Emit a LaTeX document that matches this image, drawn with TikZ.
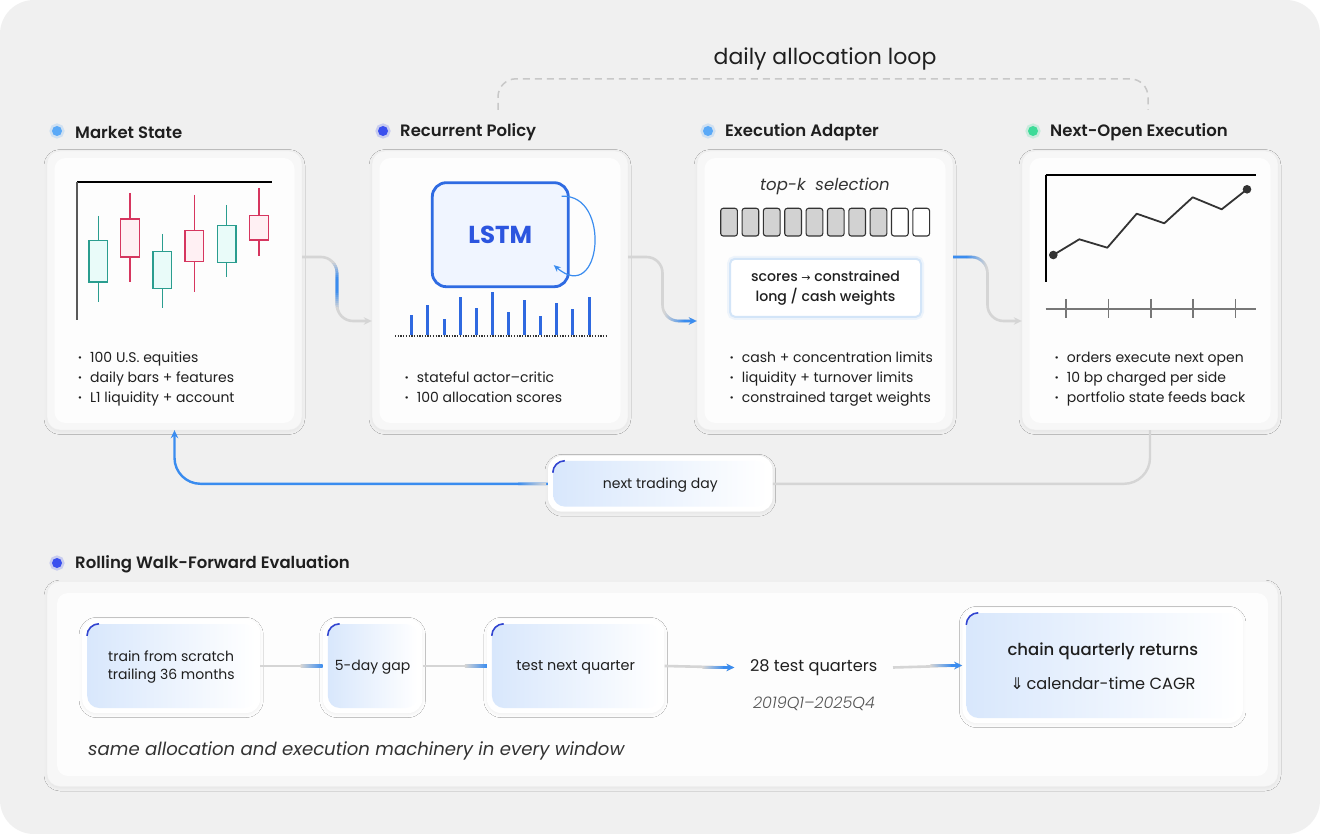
\documentclass[tikz,border=0pt]{standalone}
\usepackage{fontspec}
\setmainfont{Poppins}
\newfontfamily\pmed{Poppins Medium}
\newfontfamily\psemi{Poppins SemiBold}
\newfontfamily\pbold{Poppins Bold}
\newfontfamily\pit{Poppins Italic}
\newfontfamily\plightit{Poppins Light Italic}
\newfontfamily\djv{DejaVu Sans}
\usetikzlibrary{calc,arrows.meta,shadows.blur}

\definecolor{bgc}{HTML}{F0F0F0}
\definecolor{cardc}{HTML}{F7F7F7}
\definecolor{cardb}{HTML}{EEEEEE}
\definecolor{innerc}{HTML}{FDFDFD}
\definecolor{txt}{HTML}{1F1F1F}
\definecolor{lgray}{HTML}{D5D5D5}
\definecolor{lblue}{HTML}{3A8CEF}
\definecolor{dotlb}{HTML}{5AA9F7}
\definecolor{dotdb}{HTML}{3A4FEE}
\definecolor{dotg}{HTML}{3DDB98}
\definecolor{tealc}{HTML}{2A9D8F}
\definecolor{tealf}{HTML}{E9FBF9}
\definecolor{redc}{HTML}{D6365F}
\definecolor{redf}{HTML}{FFF0F3}
\definecolor{lstmb}{HTML}{2F6BE2}
\definecolor{lstmf}{HTML}{F0F5FF}
\definecolor{lstmt}{HTML}{2C55DF}
\definecolor{barc}{HTML}{2F69E0}
\definecolor{accentc}{HTML}{3144D0}
\definecolor{gradl}{HTML}{D8E7FC}
\definecolor{scb}{HTML}{D3E5F8}
\definecolor{boxg}{HTML}{D2D2D2}
\definecolor{darkc}{HTML}{333333}
\definecolor{axisg}{HTML}{777777}
\definecolor{subt}{HTML}{555555}

\newcommand\mybul{\makebox[12pt][l]{\psemi ·}}
\newcommand\mycandle[7]{%
  \draw[#6, line width=1.4] (#1,#2) -- (#1,#3);
  \draw[#6, fill=#7, line width=1.4] (#1-9.3,#4) rectangle (#1+9.3,#5);}

\begin{document}
\begin{tikzpicture}[x=1pt,y=-1pt,
  card/.style={rounded corners=13, fill=cardc, draw=cardb, line width=0.4,
    blur shadow={shadow xshift=0pt, shadow yshift=-1.5pt, shadow blur radius=3pt, shadow opacity=5}},
  innercard/.style={rounded corners=11, fill=innerc, draw=none, inner sep=0},
  dotn/.style={circle, inner sep=0, minimum size=10, fill=#1,
    preaction={draw=#1, draw opacity=.22, line width=5}},
  ttl/.style={anchor=west, inner sep=0, font=\psemi\fontsize{16.5}{20}\selectfont, text=txt},
  bul/.style={anchor=west, inner sep=0, font=\fontsize{14}{16}\selectfont, text=txt, text height=10pt, text depth=3pt},
  conn/.style={line width=2.6, rounded corners=16},
  conn2/.style={line width=2.4, rounded corners=26},
  tip/.style={-{Stealth[length=8,width=7.5]}},
  wbox/.style={rounded corners=14, fill=white, draw=none, inner sep=0,
    blur shadow={shadow xshift=0pt, shadow yshift=-1.5pt, shadow blur radius=3pt, shadow opacity=5}},
  gbox/.style={rounded corners=12, left color=gradl, right color=white, draw=none, inner sep=0},
  accent/.style={accentc, line width=1.6},
  lbl/.style={inner sep=0, text=txt, align=center},
]
\useasboundingbox (0,0) rectangle (1320,834);
\fill[white] (0,0) rectangle (1320,834);
\fill[bgc, rounded corners=34] (0,0) rectangle (1320,834);

% ---------- loop label ----------
\node[lbl, font=\fontsize{22}{26}\selectfont] (dal) at (825,58.5) {daily allocation loop};

% ---------- cards ----------
\node[card, minimum width=255, minimum height=279] (ms) at (174.5,290.5) {};
\node[innercard, minimum width=240, minimum height=265] (msi) at (ms.center) {};
\node[card, minimum width=256, minimum height=279] (rp) at (500,290.5) {};
\node[innercard, minimum width=241, minimum height=265] (rpi) at (rp.center) {};
\node[card, minimum width=256, minimum height=279] (ea) at (825,290.5) {};
\node[innercard, minimum width=241, minimum height=265] (eai) at (ea.center) {};
\node[card, minimum width=256, minimum height=279] (no) at (1150,290.5) {};
\node[innercard, minimum width=241, minimum height=265] (noi) at (no.center) {};

% ---------- titles ----------
\node[dotn=dotlb] (msd) at (57,131) {};
\node[ttl] (mst) at (75,132) {Market State};
\node[dotn=dotdb] (rpd) at (383,131) {};
\node[ttl] (rpt) at (400,132) {Recurrent Policy};
\node[dotn=dotlb] (ead) at (708,131) {};
\node[ttl] (eat) at (725,132) {Execution Adapter};
\node[dotn=dotg] (nod) at (1033,131) {};
\node[ttl] (not) at (1050,132) {Next-Open Execution};

% ---------- dashed loop ----------
\coordinate (dl) at ($(rp.north)+(-2,-41)$);
\coordinate (dr) at ($(no.north)+(-2,-41)$);
\coordinate (dm) at ($(dl)!.5!(dr)+(0,-31)$);
\draw[lgray!85!gray, line width=1.5, dash pattern=on 7 off 5, rounded corners=18] (dl) |- (dm) -| (dr);

% ---------- Market State chart ----------
\draw[black, line width=1.3] (77,182) -- (272,182);
\draw[black!65, line width=1.6] (77,182) -- (77,320);
\mycandle{98.3}{216}{302}{240.7}{282}{tealc}{tealf}
\mycandle{130}{193}{282}{219}{257}{redc}{redf}
\mycandle{162.3}{234}{307.7}{251.7}{288.3}{tealc}{tealf}
\mycandle{194.3}{195}{291.7}{230.3}{261.3}{redc}{redf}
\mycandle{226.7}{205}{277.3}{225.3}{262.3}{tealc}{tealf}
\mycandle{259}{188}{256}{215.3}{240}{redc}{redf}
\node[bul] (msb1) at (78,358.5) {\mybul 100 U.S. equities};
\node[bul] (msb2) at (78,378.5) {\mybul daily bars + features};
\node[bul] (msb3) at (78,398.5) {\mybul L1 liquidity + account};

% ---------- Recurrent Policy ----------
\node[draw=lstmb, line width=2.8, rounded corners=14, fill=lstmf, minimum width=136, minimum height=104,
  text=lstmt, font=\pbold\fontsize{24.5}{26}\selectfont] (lstm) at (500.3,234.7) {LSTM};
\draw[lblue, line width=1.2, -{Stealth[length=7,width=6]}] ($(lstm.north east)+(-8,15)$)
  .. controls ($(lstm.north east)+(42,12)$) and ($(lstm.south east)+(32,18)$) .. ($(lstm.south east)+(-16,-23)$);
\foreach \x/\t in {411.7/315, 427.7/305, 444/319, 460/297, 476.3/308, 492.3/292, 508.3/312, 524.3/300, 540.3/316, 556.7/303, 572.7/309, 589/297}
  \draw[barc, line width=3] (\x,335) -- (\x,\t);
\draw[darkc, line width=1.3, dash pattern=on 1.3 off 1.4] (395,336) -- (606,336);
\node[bul] (rpb1) at (404.7,378.5) {\mybul stateful actor–critic};
\node[bul] (rpb2) at (404.7,398.5) {\mybul 100 allocation scores};

% ---------- Execution Adapter ----------
\node[lbl, text=darkc, font=\pit\fontsize{16.5}{19}\selectfont] (topk) at (825,186) {top-k\hspace{0.6em}selection};
\foreach \i in {0,...,7}{
  \pgfmathsetmacro\xl{720.7+21.35*\i}
  \draw[darkc, line width=1.1, fill=boxg, rounded corners=2.5] (\xl,208.3) rectangle (\xl+16.7,236);
}
\foreach \i in {8,9}{
  \pgfmathsetmacro\xl{720.7+21.35*\i}
  \draw[darkc, line width=1.1, fill=white, rounded corners=2.5] (\xl,208.3) rectangle (\xl+16.7,236);
}
\node[rounded corners=5, fill=white, draw=scb, line width=2, minimum width=191, minimum height=58,
  preaction={draw=scb, draw opacity=.35, line width=6},
  text=txt, align=center, font=\pmed\fontsize{14.1}{20}\selectfont] (sc) at (825.5,287.8)
  {scores {\djv\fontsize{11}{11}\selectfont →} constrained\\long / cash weights};
\node[bul] (eab1) at (729.7,358.5) {\mybul cash + concentration limits};
\node[bul] (eab2) at (729.7,378.5) {\mybul liquidity + turnover limits};
\node[bul] (eab3) at (729.7,398.5) {\mybul constrained target weights};

% ---------- Next-Open Execution ----------
\draw[black, line width=1.6] (1045.7,175) -- (1255.7,175);
\draw[black, line width=1.6] (1045.7,175) -- (1045.7,282.3);
\draw[darkc, line width=1.8, line join=round] (1053.3,255) -- (1079.3,239.3) -- (1107.3,247.7) -- (1136.7,213.7)
  -- (1164.3,223.3) -- (1192.7,197.3) -- (1221.7,209.3) -- (1247,189.3);
\fill[darkc] (1053.3,255) circle (4.3);
\fill[darkc] (1247,189.3) circle (4.3);
\draw[axisg, line width=2] (1045.7,309) -- (1255.7,309);
\foreach \x in {1066,1108.3,1150.7,1193,1235.3}
  \draw[axisg, line width=1.6] (\x,299) -- (\x,318);
\node[bul] (nob1) at (1054.7,358.5) {\mybul orders execute next open};
\node[bul] (nob2) at (1054.7,378.5) {\mybul 10 bp charged per side};
\node[bul] (nob3) at (1054.7,398.5) {\mybul portfolio state feeds back};

% ---------- connectors between cards ----------
\coordinate (c1s) at ($(ms.east)+(0,-33.5)$);
\coordinate (c1e) at ($(rp.west)+(0,30.5)$);
\coordinate (c1m) at ($(c1s)!.5!(c1e)$);
\draw[conn, lgray, tip] (c1s) -| (c1m) |- (c1e);
\foreach \i in {0,...,23}{
  \pgfmathsetmacro\ya{262+2*\i}
  \pgfmathsetmacro\pp{max(0,min(100,100*(1.4-abs(\i-11.5)/8.2)))}
  \begin{scope}
    \clip (320,\ya) rectangle (352,\ya+2.15);
    \draw[conn, lblue!\pp!lgray] (c1s) -| (c1m) |- (c1e);
  \end{scope}
}

\coordinate (c2s) at ($(rp.east)+(0,-33.5)$);
\coordinate (c2e) at ($(ea.west)+(0,30.5)$);
\coordinate (c2m) at ($(c2s)!.5!(c2e)$);
\draw[conn, lgray, tip] (c2s) -| (c2m) |- (c2e);
\foreach \i in {0,...,19}{
  \pgfmathsetmacro\xa{665+\i}
  \pgfmathsetmacro\pp{5*\i+5}
  \begin{scope}
    \clip (\xa,290) rectangle (\xa+1.15,335);
    \draw[conn, lblue!\pp!lgray] (c2s) -| (c2m) |- (c2e);
  \end{scope}
}
\begin{scope}
  \clip (685,290) rectangle (712,335);
  \draw[conn, lblue, tip] (c2s) -| (c2m) |- (c2e);
\end{scope}

\coordinate (c3s) at ($(ea.east)+(0,-33.5)$);
\coordinate (c3e) at ($(no.west)+(0,30.5)$);
\coordinate (c3m) at ($(c3s)!.5!(c3e)$);
\draw[conn, lgray, tip] (c3s) -| (c3m) |- (c3e);
\begin{scope}
  \clip (940,240) rectangle (966,285);
  \draw[conn, lblue] (c3s) -| (c3m) |- (c3e);
\end{scope}
\foreach \i in {0,...,19}{
  \pgfmathsetmacro\xa{966+\i}
  \pgfmathsetmacro\pp{100-5*\i}
  \begin{scope}
    \clip (\xa,240) rectangle (\xa+1.15,285);
    \draw[conn, lblue!\pp!lgray] (c3s) -| (c3m) |- (c3e);
  \end{scope}
}

% ---------- next trading day loop ----------
\node[wbox, minimum width=224.6, minimum height=55.7] (ntd) at (660.3,483.8) {};
\node[gbox, minimum width=214.6, minimum height=45.7] (ntdi) at (ntd.center) {};
\draw[accent] ($(ntdi.north west)+(0,12)$) .. controls ($(ntdi.north west)+(0,5.4)$) and ($(ntdi.north west)+(5.4,0)$) .. ($(ntdi.north west)+(12,0)$);
\node[lbl, font=\fontsize{14}{16}\selectfont] (ntdt) at ($(ntd.center)+(0,1)$) {next trading day};
\draw[conn2, lgray] (ntd.east) -| (no.south);
\draw[conn2, lblue, tip] (ntd.west) -| (ms.south);
\foreach \i in {0,...,27}{
  \pgfmathsetmacro\xa{518+\i}
  \pgfmathsetmacro\pp{100-100*\i/27}
  \begin{scope}
    \clip (\xa,470) rectangle (\xa+1.15,500);
    \draw[conn2, lblue!\pp!lgray] (ntd.west) -| (ms.south);
  \end{scope}
}

% ---------- Rolling Walk-Forward Evaluation ----------
\node[dotn=dotdb] (evd) at (57,563) {};
\node[ttl] (evt) at (75,564) {Rolling Walk-Forward Evaluation};
\node[card, minimum width=1231, minimum height=205] (ev) at (662.5,684) {};
\node[innercard, minimum width=1211, minimum height=183] (evi) at (662.5,684.5) {};

\node[wbox, minimum width=178, minimum height=94] (tr) at (171.2,666) {};
\node[gbox, minimum width=168, minimum height=84] (tri) at (tr.center) {};
\draw[accent] ($(tri.north west)+(0,12)$) .. controls ($(tri.north west)+(0,5.4)$) and ($(tri.north west)+(5.4,0)$) .. ($(tri.north west)+(12,0)$);
\node[lbl, font=\fontsize{14}{17.4}\selectfont] (trt) at ($(tr.center)+(0,1)$) {train from scratch\\trailing 36 months};

\node[wbox, minimum width=99.5, minimum height=94] (gp) at (372.6,666) {};
\node[gbox, minimum width=89.5, minimum height=84] (gpi) at (gp.center) {};
\draw[accent] ($(gpi.north west)+(0,12)$) .. controls ($(gpi.north west)+(0,5.4)$) and ($(gpi.north west)+(5.4,0)$) .. ($(gpi.north west)+(12,0)$);
\node[lbl, font=\fontsize{14}{17}\selectfont] (gpt) at ($(gp.center)+(0,1)$) {5-day gap};

\node[wbox, minimum width=177.5, minimum height=94] (te) at (575.7,666) {};
\node[gbox, minimum width=167.5, minimum height=84] (tei) at (te.center) {};
\draw[accent] ($(tei.north west)+(0,12)$) .. controls ($(tei.north west)+(0,5.4)$) and ($(tei.north west)+(5.4,0)$) .. ($(tei.north west)+(12,0)$);
\node[lbl, font=\fontsize{14.4}{17}\selectfont] (tet) at ($(te.center)+(0,1)$) {test next quarter};

\node[lbl, inner xsep=15.5, font=\fontsize{16.2}{19}\selectfont] (n28) at (813.7,667.5) {28 test quarters};
\node[lbl, text=subt, font=\plightit\fontsize{16}{19}\selectfont] (yrs) at (814,704) {2019Q1–2025Q4};

\node[wbox, minimum width=280.5, minimum height=115] (ch) at (1102.7,665.5) {};
\node[gbox, minimum width=272.5, minimum height=105] (chi) at (ch.center) {};
\draw[accent] ($(chi.north west)+(0,12)$) .. controls ($(chi.north west)+(0,5.4)$) and ($(chi.north west)+(5.4,0)$) .. ($(chi.north west)+(12,0)$);
\node[lbl, font=\pmed\fontsize{16.5}{19}\selectfont] (cht) at (1102.9,651.5) {chain quarterly returns};
\node[lbl, font=\fontsize{16.2}{19}\selectfont] (chc) at (1102.9,683.5) {{\djv ⇓}\,calendar-time CAGR};

\node[anchor=west, inner sep=0, text=darkc, font=\pit\fontsize{18.1}{21}\selectfont] (same) at (88,751) {same allocation and execution machinery in every window};

% row connectors
\draw[lgray, line width=2.6] (tr.east) -- (gp.west);
\shade[left color=lgray, right color=lblue] ($(gp.west)+(-22,-1.3)$) rectangle ($(gp.west)+(0,1.3)$);
\draw[lgray, line width=2.6] (gp.east) -- (te.west);
\shade[left color=lgray, right color=lblue] ($(te.west)+(-22,-1.3)$) rectangle ($(te.west)+(0,1.3)$);
\draw[lgray, line width=2.6, tip] (te.east) -- (n28.west);
\shade[left color=lgray, right color=lblue] ($(n28.west)+(-32,-1.3)$) rectangle ($(n28.west)+(-10,1.3)$);
\draw[lblue, line width=2.6, tip] ($(n28.west)+(-11,0)$) -- (n28.west);
\draw[lgray, line width=2.6, tip] (n28.east) -- (ch.west);
\shade[left color=lgray, right color=lblue] ($(ch.west)+(-32,-1.3)$) rectangle ($(ch.west)+(-10,1.3)$);
\draw[lblue, line width=2.6, tip] ($(ch.west)+(-11,0)$) -- (ch.west);
\end{tikzpicture}
\end{document}
